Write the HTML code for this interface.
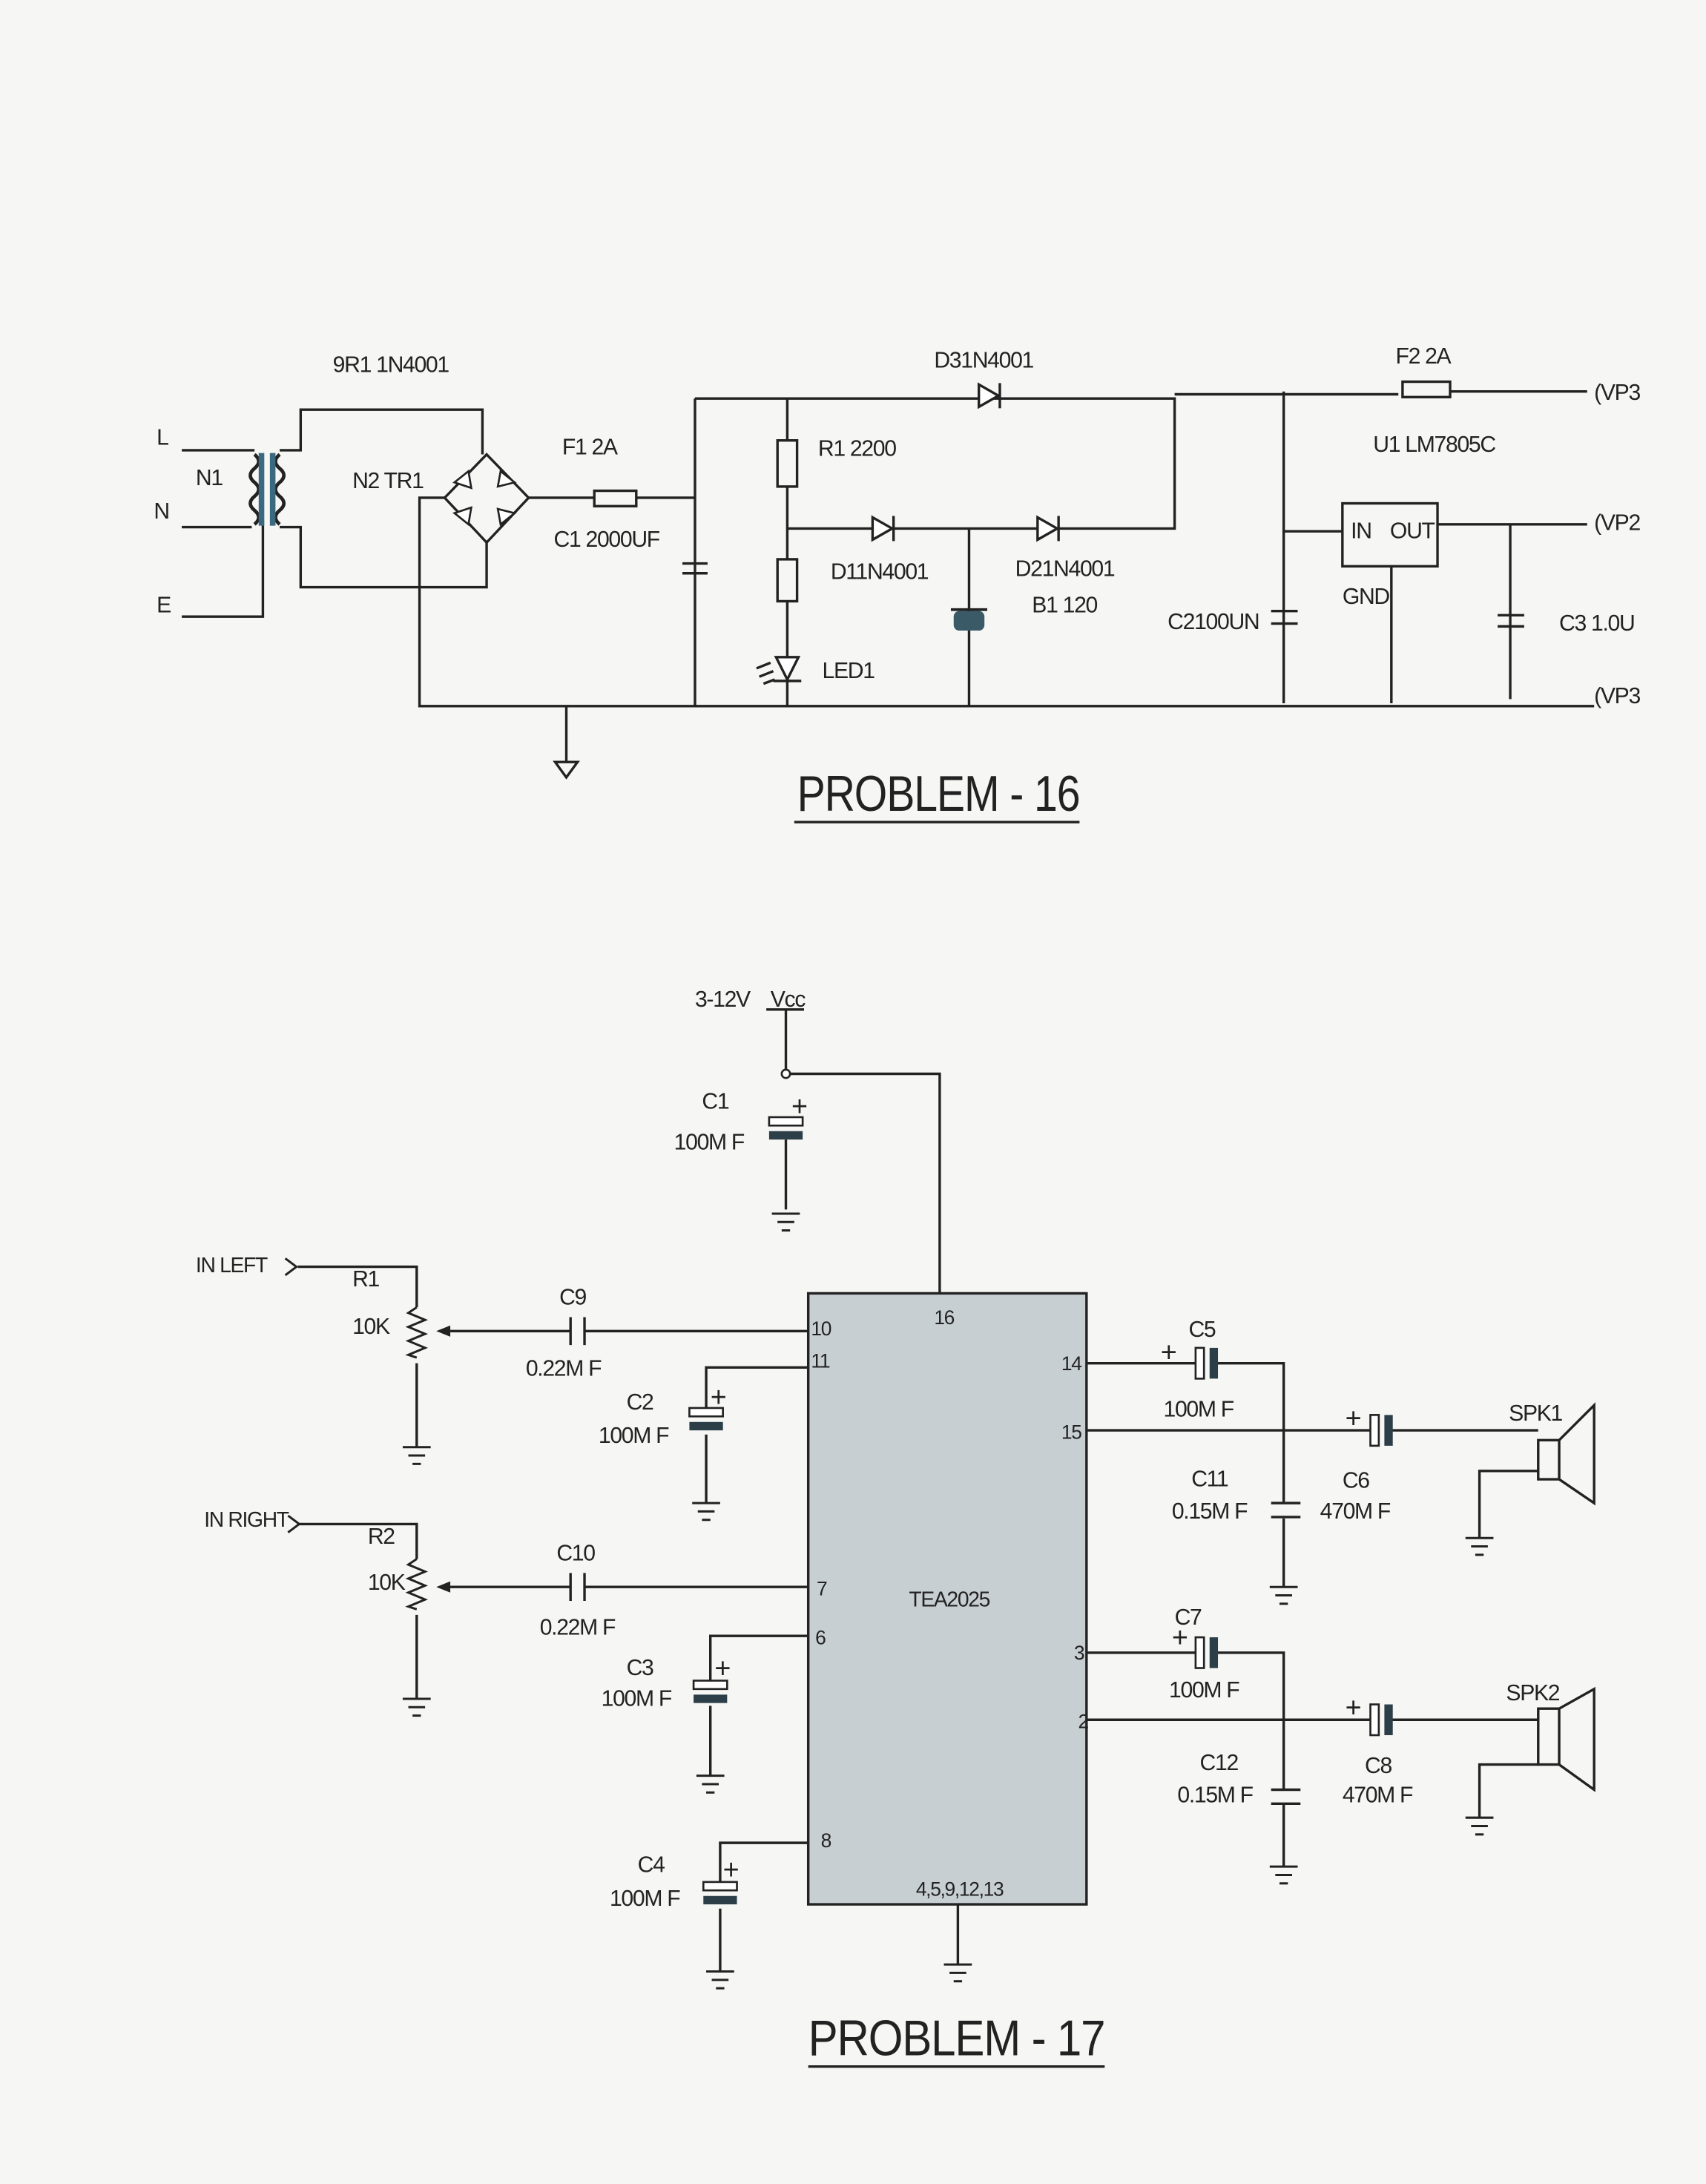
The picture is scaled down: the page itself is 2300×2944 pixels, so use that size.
<!DOCTYPE html>
<html><head><meta charset="utf-8"><style>
html,body{margin:0;padding:0;background:#f6f6f4;}
svg{display:block}
text{font-family:"Liberation Sans",sans-serif;fill:#222;letter-spacing:-0.7px;}
</style></head><body>
<svg width="2300" height="2944" viewBox="0 0 1220 1562" preserveAspectRatio="none" xmlns="http://www.w3.org/2000/svg">
<defs>
<g id="gnd" stroke="#222" stroke-width="1.6"><line x1="-10" y1="0" x2="10" y2="0"/><line x1="-6" y1="6" x2="6" y2="6"/><line x1="-3" y1="12" x2="3" y2="12"/></g>
<g id="ecv"><rect x="-12" y="-7" width="24" height="6" fill="#fff" stroke="#222" stroke-width="1.4"/><rect x="-12" y="3" width="24" height="6" fill="#2c3e48"/></g>
<g id="ech"><rect x="-7" y="-11" width="6" height="22" fill="#fff" stroke="#222" stroke-width="1.4"/><rect x="3" y="-11" width="6" height="22" fill="#2c3e48"/></g>
</defs>
<rect width="1220" height="1562" fill="#f6f6f4"/>
<g stroke="#222" stroke-width="1.8" fill="none">
<path d="M130 322H182M130 377H180M130 441H188V372"/>
<path d="M200 322H215V293H345V325M200 377H215V420H348V388"/>
<path d="M182 325q6 5 0 10q-6 5 0 10q6 5 0 10q-6 5 0 10q6 5 0 10" stroke-width="2.5"/>
<path d="M200 325q-6 5 0 10q6 5 0 10q-6 5 0 10q6 5 0 10q-6 5 0 10" stroke-width="2.5"/>
<line x1="187" y1="324" x2="187" y2="376" stroke="#3b6a80" stroke-width="4"/>
<line x1="195" y1="324" x2="195" y2="376" stroke="#3b6a80" stroke-width="4"/>
<path d="M348 325L378 356L348 388L318 356Z"/>
<path d="M318 356H300V505H1140"/>
<path d="M378 356H425M455 356H497M497 285V505M488 403H506M488 410H506"/>
<rect x="425" y="351" width="30" height="11"/>
<path d="M497 285H840V378H563M563 285V315M563 348V400M563 430V505M693 378V505"/>
<rect x="556" y="315" width="14" height="33"/>
<rect x="556" y="400" width="14" height="30"/>
<path d="M840 282H1000M1037 280H1135M918 280V503M909 437H928M909 446H928M918 380H960M1028 375H1135M995 405V503M1080 375V500M1071 440H1090M1071 448H1090"/>
<rect x="1003" y="273" width="34" height="11"/>
<rect x="960" y="360" width="68" height="45"/>
<path d="M405 505V545M397 545H413L405 556Z"/>
<line x1="568" y1="588" x2="772" y2="588"/>
<path d="M562 722V765M565 768H672V925M562 800V801M562 815V865"/>
<line x1="548" y1="722" x2="575" y2="722"/>
<path d="M213 906H298V935M298 975V1035M418 952H578M408 952H322M578 978H505V1007M505 1026V1075"/>
<path d="M298 935l-6 4 12 5-12 5 12 5-12 5 12 5-12 5 6 2" stroke-width="1.6"/>
<path d="M213 1090H298V1115M298 1155V1215M418 1135H578M408 1135H322M578 1170H508V1202M508 1220V1270M578 1318H515V1346M515 1365V1410"/>
<path d="M298 1115l-6 4 12 5-12 5 12 5-12 5 12 5-12 5 6 2" stroke-width="1.6"/>
<path d="M408 942V962M418 942V962M408 1125V1145M418 1125V1145"/>
<path d="M685 1362V1405"/>
<path d="M777 975H855M870 975H918V1075M918 1086V1135M909 1075H930M909 1085H930M777 1023H980M995 1023H1100M1100 1052H1058V1100"/>
<path d="M1100 1030H1115V1058H1100ZM1115 1030L1140 1005V1075L1115 1058"/>
<path d="M777 1182H855M870 1182H918V1280M918 1290V1335M909 1280H930M909 1290H930M777 1230H980M995 1230H1100M1100 1262H1058V1300"/>
<path d="M1100 1222H1115V1262H1100ZM1115 1222L1140 1208V1280L1115 1262"/>
<line x1="578" y1="1478" x2="790" y2="1478"/>
</g>
<g fill="#fff" stroke="#222" stroke-width="1.4">
<path d="M325 345l10-8 2 12z"/><path d="M358 337l10 8-12 3z"/><path d="M325 367l10 8 2-12z"/><path d="M358 375l10-8-12-3z"/>
</g>
<g fill="#fff" stroke="#222" stroke-width="1.8">
<path d="M700 275V291L714 283Z"/><line x1="715" y1="274" x2="715" y2="292"/>
<path d="M624 370V386L638 378Z"/><line x1="639" y1="369" x2="639" y2="387"/>
<path d="M742 370V386L756 378Z"/><line x1="757" y1="369" x2="757" y2="387"/>
<path d="M555 470H571L563 486Z"/><line x1="553" y1="487" x2="573" y2="487"/>
<path d="M541 478l10 -4M543 484l10-4M546 489l8-3"/>
</g>
<rect x="682" y="437" width="22" height="14" rx="4" fill="#3b5a68"/>
<line x1="680" y1="436" x2="706" y2="436" stroke="#222" stroke-width="2"/>
<circle cx="562" cy="768" r="3" fill="#fff" stroke="#222" stroke-width="1.4"/>
<use href="#ecv" x="562" y="806"/><use href="#ecv" x="505" y="1014"/><use href="#ecv" x="508" y="1209"/><use href="#ecv" x="515" y="1353"/>
<use href="#ech" x="862" y="975"/><use href="#ech" x="987" y="1023"/><use href="#ech" x="862" y="1182"/><use href="#ech" x="987" y="1230"/>
<use href="#gnd" x="562" y="868"/><use href="#gnd" x="298" y="1035"/><use href="#gnd" x="505" y="1075"/><use href="#gnd" x="298" y="1215"/>
<use href="#gnd" x="508" y="1270"/><use href="#gnd" x="515" y="1410"/><use href="#gnd" x="685" y="1405"/><use href="#gnd" x="918" y="1135"/>
<use href="#gnd" x="1058" y="1100"/><use href="#gnd" x="918" y="1335"/><use href="#gnd" x="1058" y="1300"/>
<g fill="#222"><path d="M312 952l10-4v8z"/><path d="M312 1135l10-4v8z"/></g>
<g stroke="#222" stroke-width="1.6" fill="none"><path d="M204 900l8 6-8 6"/><path d="M206 1084l8 6-8 6"/></g>
<rect x="578" y="925" width="199" height="437" fill="#c8cfd3" stroke="#222" stroke-width="1.8"/>
<g font-size="16">
<text x="112" y="318">L</text><text x="110" y="371">N</text><text x="112" y="438">E</text>
<text x="140" y="347">N1</text><text x="238" y="266">9R1 1N4001</text><text x="252" y="349">N2 TR1</text>
<text x="402" y="325">F1 2A</text><text x="396" y="391">C1 2000UF</text><text x="585" y="326">R1 2200</text>
<text x="668" y="263">D31N4001</text><text x="594" y="414">D11N4001</text><text x="726" y="412">D21N4001</text>
<text x="738" y="438">B1 120</text><text x="588" y="485">LED1</text><text x="998" y="260">F2 2A</text>
<text x="982" y="323">U1 LM7805C</text><text x="966" y="385">IN</text><text x="994" y="385">OUT</text>
<text x="960" y="432">GND</text><text x="835" y="450">C2100UN</text><text x="1115" y="451">C3 1.0U</text>
<text x="1140" y="286">(VP3</text><text x="1140" y="379">(VP2</text><text x="1140" y="503">(VP3</text>
<text x="497" y="720">3-12V</text><text x="551" y="720">Vcc</text>
<text x="502" y="793">C1</text><text x="482" y="822">100M F</text>
<text x="140" y="910" font-size="15">IN LEFT</text><text x="252" y="920">R1</text><text x="252" y="954">10K</text>
<text x="400" y="933">C9</text><text x="376" y="984">0.22M F</text>
<text x="448" y="1008">C2</text><text x="428" y="1032">100M F</text>
<text x="146" y="1092" font-size="15">IN RIGHT</text><text x="263" y="1104">R2</text><text x="263" y="1137">10K</text>
<text x="398" y="1116">C10</text><text x="386" y="1169">0.22M F</text>
<text x="448" y="1198">C3</text><text x="430" y="1220">100M F</text>
<text x="456" y="1339">C4</text><text x="436" y="1363">100M F</text>
<text x="580" y="955" font-size="14">10</text><text x="580" y="978" font-size="14">11</text><text x="668" y="947" font-size="14">16</text>
<text x="759" y="980" font-size="14">14</text><text x="759" y="1029" font-size="14">15</text><text x="584" y="1141" font-size="14">7</text>
<text x="583" y="1176" font-size="14">6</text><text x="650" y="1149" font-size="15">TEA2025</text><text x="768" y="1187" font-size="14">3</text>
<text x="771" y="1236" font-size="14">2</text><text x="587" y="1321" font-size="14">8</text><text x="655" y="1356" font-size="14">4,5,9,12,13</text>
<text x="850" y="956">C5</text><text x="832" y="1013">100M F</text><text x="852" y="1063">C11</text><text x="838" y="1086">0.15M F</text>
<text x="960" y="1064">C6</text><text x="944" y="1086">470M F</text><text x="1079" y="1016">SPK1</text>
<text x="840" y="1162">C7</text><text x="836" y="1214">100M F</text><text x="858" y="1266">C12</text><text x="842" y="1289">0.15M F</text>
<text x="976" y="1268">C8</text><text x="960" y="1289">470M F</text><text x="1077" y="1216">SPK2</text>
<text x="566" y="798" font-size="20">+</text><text x="508" y="1006" font-size="20">+</text><text x="511" y="1200" font-size="20">+</text><text x="517" y="1344" font-size="20">+</text>
<text x="830" y="974" font-size="20">+</text><text x="962" y="1021" font-size="20">+</text><text x="838" y="1178" font-size="20">+</text><text x="962" y="1228" font-size="20">+</text>
</g>
<text x="570" y="580" font-size="36" textLength="202" lengthAdjust="spacingAndGlyphs">PROBLEM - 16</text>
<text x="578" y="1470" font-size="36" textLength="212" lengthAdjust="spacingAndGlyphs">PROBLEM - 17</text>
</svg>
</body></html>
